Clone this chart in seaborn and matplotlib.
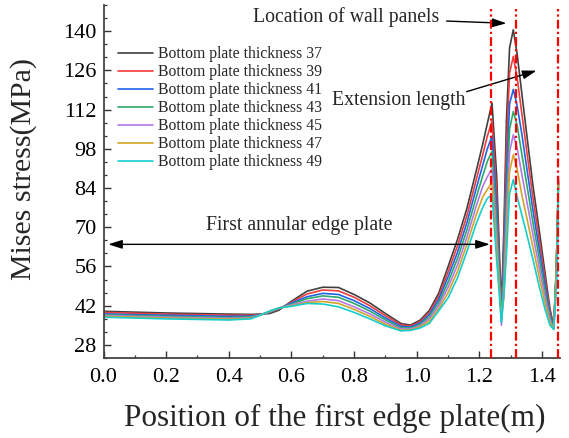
import matplotlib
matplotlib.use("Agg")
import matplotlib.pyplot as plt
import matplotlib.ticker as mticker
import numpy as np
import pandas as pd
import seaborn as sns

# Position along the first edge plate (m)
position = [0.0, 0.1, 0.2, 0.3, 0.4, 0.47, 0.5, 0.53, 0.56, 0.6, 0.65, 0.7, 0.75,
            0.8, 0.85, 0.9, 0.95, 0.98, 1.01, 1.04, 1.07, 1.1, 1.13, 1.16, 1.19,
            1.21, 1.225, 1.24, 1.255, 1.27, 1.278, 1.286, 1.296, 1.308, 1.32,
            1.335, 1.35, 1.37, 1.39, 1.41, 1.425, 1.437, 1.445, 1.452]

# Mises stress (MPa) for each bottom plate thickness
stress_37 = [40.0, 39.7, 39.4, 39.2, 39.0, 38.9, 39.0, 39.2, 40.4, 43.6, 47.2, 48.6, 48.5,
             46.0, 43.0, 39.2, 35.6, 35.1, 36.8, 40.3, 46.5, 56.0, 65.7, 76.8, 90.3,
             99.5, 107.0, 114.3, 88.0, 41.0, 70.0, 108.0, 134.0, 140.5, 132.0,
             117.9, 103.9, 85.5, 69.5, 53.1, 40.9, 34.6, 55.0, 86.0]
stress_39 = [39.6, 39.3, 39.0, 38.8, 38.6, 38.6, 38.9, 39.6, 40.8, 43.3, 46.2, 47.6, 47.3,
             45.0, 42.0, 38.4, 35.1, 34.8, 36.3, 39.6, 45.4, 54.1, 63.4, 74.2, 87.1,
             95.7, 102.5, 107.9, 82.0, 39.0, 65.0, 98.0, 125.0, 131.0, 123.5,
             110.7, 97.9, 81.1, 66.1, 51.0, 39.9, 34.4, 54.0, 86.0]
stress_41 = [39.1, 38.8, 38.6, 38.4, 38.2, 38.3, 38.8, 39.7, 41.0, 43.0, 45.2, 46.4, 46.0,
             43.8, 41.0, 37.6, 34.6, 34.4, 35.8, 38.8, 44.3, 52.3, 61.1, 71.7, 84.0,
             92.0, 98.0, 102.5, 77.0, 38.0, 60.0, 88.0, 114.0, 119.2, 113.5,
             103.4, 91.9, 76.6, 62.7, 48.9, 38.9, 34.3, 53.0, 87.0]
stress_43 = [38.8, 38.5, 38.2, 38.0, 37.8, 38.0, 38.7, 39.8, 41.1, 42.6, 44.5, 45.5, 45.0,
             42.8, 40.1, 36.9, 34.1, 34.0, 35.3, 38.1, 43.1, 50.4, 58.9, 69.1, 80.8,
             88.2, 93.5, 97.1, 72.0, 37.0, 56.0, 80.0, 105.0, 111.3, 106.5,
             96.2, 85.9, 72.2, 59.4, 46.8, 37.9, 34.0, 54.0, 88.0]
stress_45 = [38.5, 38.2, 37.9, 37.7, 37.5, 37.7, 38.7, 39.9, 41.2, 42.3, 43.6, 44.4, 43.8,
             41.6, 39.1, 36.1, 33.7, 33.7, 34.8, 37.3, 42.0, 48.6, 56.6, 66.5, 77.7,
             84.5, 88.0, 90.8, 66.0, 35.0, 50.0, 73.0, 97.0, 103.0, 98.5,
             89.0, 79.9, 67.8, 56.0, 44.6, 37.0, 33.8, 48.0, 72.0]
stress_47 = [38.2, 37.9, 37.6, 37.4, 37.2, 37.5, 38.6, 40.0, 41.2, 42.0, 43.1, 43.5, 42.8,
             40.7, 38.2, 35.4, 33.3, 33.4, 34.4, 36.5, 40.9, 46.7, 54.3, 64.0, 74.6,
             80.7, 83.5, 86.0, 62.0, 38.0, 45.0, 66.0, 90.0, 95.9, 91.0,
             81.7, 73.9, 63.3, 52.6, 42.5, 36.0, 33.7, 54.0, 86.0]
stress_49 = [37.9, 37.6, 37.3, 37.1, 36.9, 37.3, 38.6, 40.1, 41.2, 41.8, 42.8, 42.6, 41.6,
             39.6, 37.3, 34.8, 33.0, 33.2, 34.0, 35.7, 40.2, 44.8, 52.0, 61.4, 71.4,
             77.0, 80.3, 81.6, 58.0, 36.0, 46.0, 60.0, 82.0, 87.0, 81.0,
             74.5, 67.9, 58.9, 49.2, 40.4, 35.0, 33.5, 48.0, 84.0]

series_labels = ["Bottom plate thickness 37", "Bottom plate thickness 39",
                 "Bottom plate thickness 41", "Bottom plate thickness 43",
                 "Bottom plate thickness 45", "Bottom plate thickness 47",
                 "Bottom plate thickness 49"]
series_values = [stress_37, stress_39, stress_41, stress_43, stress_45, stress_47, stress_49]
line_colors = ["#404040", "#f03c3c", "#1f64e6", "#2ca86a", "#b478e6", "#d2a528", "#14cdcd"]

# Wall panel locations (m)
wall_panels = [1.237, 1.316, 1.45]

y_ticks = [28, 42, 56, 70, 84, 98, 112, 126, 140]
x_ticks = [0.0, 0.2, 0.4, 0.6, 0.8, 1.0, 1.2, 1.4]

frames = []
for label, vals in zip(series_labels, series_values):
    frames.append(pd.DataFrame({"position": position, "stress": vals, "series": label}))
df = pd.concat(frames, ignore_index=True)

sns.set_theme(style="ticks")
plt.rcParams["font.family"] = ["Liberation Serif", "DejaVu Serif"]

fig = plt.figure(figsize=(5.69, 4.38), dpi=100)
ax = fig.add_axes([103.5 / 569, 1 - 358 / 438, (560 - 103.5) / 569, (358 - 5) / 438])

sns.lineplot(data=df, x="position", y="stress", hue="series", hue_order=series_labels,
             palette=line_colors, estimator=None, sort=False, linewidth=1.2, ax=ax,
             legend=False)

ymin, ymax = 28 - 14 / 3, 140 + 28 / 3
for xp in wall_panels:
    ax.plot([xp, xp], [ymin, 147.9], color="#ff0000", lw=1.6,
            dashes=(4, 1.4, 1, 1.4), zorder=5)

ax.set_xlim(0, 1.457)
ax.set_ylim(ymin, ymax)
ax.set_xticks(x_ticks)
ax.set_xticklabels([f"{v:.1f}" for v in x_ticks])
ax.set_yticks(y_ticks)
ax.xaxis.set_minor_locator(mticker.MultipleLocator(0.1))
ax.yaxis.set_minor_locator(mticker.MultipleLocator(14 / 3))

for side in ["top", "right"]:
    ax.spines[side].set_visible(False)
for side in ["left", "bottom"]:
    ax.spines[side].set_color("#444444")
    ax.spines[side].set_linewidth(1.3)

ax.tick_params(axis="both", which="major", direction="in", length=5, width=1.0,
               color="#333333", labelsize=16, labelcolor="black")
ax.tick_params(axis="both", which="minor", direction="in", length=2.5, width=0.9,
               color="#333333")
ax.tick_params(axis="x", which="major", pad=7)
ax.tick_params(axis="y", which="major", pad=5)

ax.set_xlabel("Position of the first edge plate(m)", fontsize=22.5)
ax.set_ylabel("Mises stress(MPa)", fontsize=21.5)
ax.xaxis.set_label_coords(0.507, -0.129)
ax.yaxis.set_label_coords(-0.145, 0.535)

# Legend
handles = [plt.Line2D([], [], color=c, lw=1.2) for c in line_colors]
ax.legend(handles, series_labels, loc="upper left",
          bbox_to_anchor=(118 / 569, 1 - 46 / 438), bbox_transform=fig.transFigure,
          frameon=False, fontsize=11.3, borderpad=0, borderaxespad=0,
          handlelength=2.2, handletextpad=0.35, labelspacing=0.13)

arrow_style = dict(arrowstyle="-|>,head_length=0.7,head_width=0.22", lw=1.0,
                   color="black", shrinkA=0, shrinkB=0, mutation_scale=12)

ax.text(0.774, 145.05, "Location of wall panels", fontsize=14.2, ha="center", va="center")
ax.annotate("", xy=(1.286, 142.8), xytext=(1.095, 143.6), arrowprops=arrow_style)

ax.text(0.943, 115.4, "Extension length", fontsize=14.2, ha="center", va="center")
ax.annotate("", xy=(1.382, 125.9), xytext=(1.159, 118.4), arrowprops=arrow_style)

ax.text(0.624, 70.5, "First annular edge plate", fontsize=14.2, ha="center", va="center")
ax.annotate("", xy=(1.233, 63.9), xytext=(0.015, 63.9),
            arrowprops=dict(arrowstyle="<|-|>,head_length=0.7,head_width=0.22", lw=1.0,
                            color="black", shrinkA=0, shrinkB=0, mutation_scale=12))

fig.savefig("out.png", dpi=100)
